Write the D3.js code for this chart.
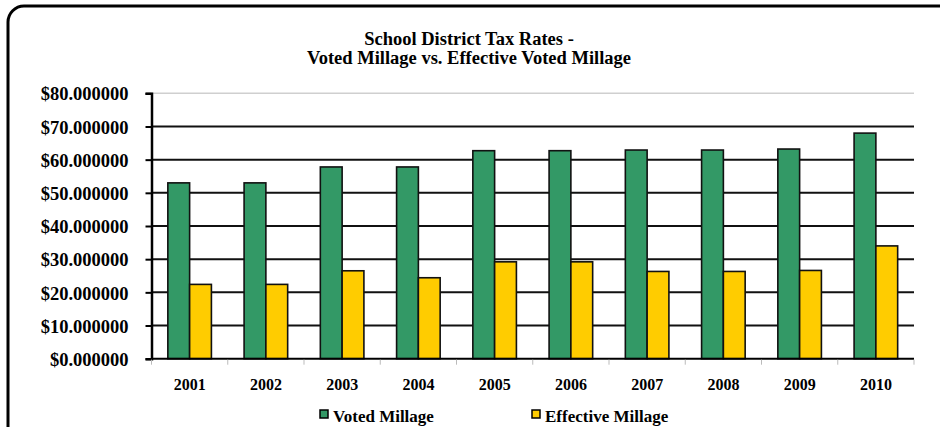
<!DOCTYPE html>
<html lang="en">
  <head>
    <meta charset="UTF-8" />
    <title>School District Tax Rates</title>
    <script src="https://d3js.org/d3.v7.min.js"></script>
    <style>
      body {
        margin: 0;
        background: #fff;
      }
      svg text {
        font-family: "Liberation Serif", "Times New Roman", serif;
        font-weight: bold;
        fill: #000;
      }
    </style>
  </head>
  <body>
    <svg id="chart" width="940" height="427"></svg>

    <script>
      // data
      const years = ["2001", "2002", "2003", "2004", "2005", "2006", "2007", "2008", "2009", "2010"];
      const votedMillage = [53.0, 53.0, 57.8, 57.8, 62.7, 62.7, 62.9, 62.9, 63.2, 68.0];
      const effectiveMillage = [22.4, 22.4, 26.5, 24.4, 29.2, 29.2, 26.3, 26.3, 26.6, 34.0];
      const seriesNames = ["Voted Millage", "Effective Millage"];
      const seriesColors = ["#339966", "#ffcc00"];
      const yTicks = [0, 10, 20, 30, 40, 50, 60, 70, 80];

      const svg = d3.select("#chart");

      // outer rounded frame (runs off the right and bottom edge)
      svg.append("rect")
        .attr("x", 8)
        .attr("y", 6)
        .attr("width", 946)
        .attr("height", 470)
        .attr("rx", 16)
        .attr("fill", "none")
        .attr("stroke", "#000")
        .attr("stroke-width", 3);

      // title
      const title = svg.append("text")
        .attr("text-anchor", "middle")
        .style("font-size", "18.5px");
      title.append("tspan").attr("x", 469).attr("y", 45).text("School District Tax Rates -");
      title.append("tspan").attr("x", 469).attr("y", 64).text("Voted Millage vs. Effective Voted Millage");

      const plotLeft = 151.5, plotRight = 914, plotTop = 93.3, plotBottom = 358.7;

      const x = d3.scaleBand().domain(years).range([plotLeft, plotRight]);
      const bw = x.bandwidth() / 3.5; // Excel gap width 150%
      const xs = d3.scaleBand().domain(seriesNames).range([bw * 0.75, bw * 2.75]);
      const y = d3.scaleLinear().domain([0, 80]).range([plotBottom, plotTop]);

      // gridlines
      svg.append("g")
        .selectAll("line")
        .data(yTicks.filter((d) => d > 0))
        .join("line")
        .attr("x1", plotLeft)
        .attr("x2", plotRight)
        .attr("y1", (d) => y(d))
        .attr("y2", (d) => y(d))
        .attr("stroke", (d) => (d === 80 ? "#cfcfcf" : "#111"))
        .attr("stroke-width", (d) => (d === 80 ? 1.5 : 2));

      // bars
      const rows = years.map((yr, i) => ({ year: yr, values: [votedMillage[i], effectiveMillage[i]] }));
      const groups = svg.append("g")
        .selectAll("g")
        .data(rows)
        .join("g")
        .attr("transform", (d) => `translate(${x(d.year)},0)`);

      groups.selectAll("rect")
        .data((d) => d.values.map((v, j) => ({ name: seriesNames[j], value: v, color: seriesColors[j] })))
        .join("rect")
        .attr("x", (d) => xs(d.name))
        .attr("y", (d) => y(d.value))
        .attr("width", xs.bandwidth())
        .attr("height", (d) => y(0) - y(d.value))
        .attr("fill", (d) => d.color)
        .attr("stroke", "#111")
        .attr("stroke-width", 1.6);

      // y axis
      const yAxis = svg.append("g")
        .attr("transform", `translate(${plotLeft},0)`)
        .call(d3.axisLeft(y).tickValues(yTicks).tickSize(6).tickPadding(17)
          .tickFormat((d) => "$" + d3.format(".6f")(d)));
      yAxis.select(".domain").attr("stroke", "#000").attr("stroke-width", 2.5);
      yAxis.selectAll(".tick line").attr("stroke", "#000").attr("stroke-width", 2);
      yAxis.selectAll("text")
        .style("font-size", "18.5px")
        .attr("font-family", null)
        .attr("dy", "0.36em");

      // x axis
      const xAxis = svg.append("g")
        .attr("transform", `translate(0,${plotBottom})`)
        .call(d3.axisBottom(x).tickSize(0).tickPadding(20));
      xAxis.select(".domain").remove();
      xAxis.selectAll("text").style("font-size", "16px").attr("font-family", null);

      svg.append("line")
        .attr("x1", plotLeft)
        .attr("x2", plotRight)
        .attr("y1", plotBottom)
        .attr("y2", plotBottom)
        .attr("stroke", "#000")
        .attr("stroke-width", 2);

      // category boundary ticks
      svg.append("g")
        .selectAll("line")
        .data(years.map((d) => x(d)).concat([plotRight]))
        .join("line")
        .attr("x1", (d) => d)
        .attr("x2", (d) => d)
        .attr("y1", plotBottom + 1)
        .attr("y2", plotBottom + 6)
        .attr("stroke", "#bbb")
        .attr("stroke-width", 1);

      // legend
      const legendX = [320, 532];
      const legend = svg.append("g")
        .selectAll("g")
        .data(seriesNames)
        .join("g")
        .attr("transform", (d, i) => `translate(${legendX[i]},410)`);
      legend.append("rect")
        .attr("width", 8)
        .attr("height", 8)
        .attr("fill", (d, i) => seriesColors[i])
        .attr("stroke", "#000")
        .attr("stroke-width", 1.5);
      legend.append("text")
        .attr("x", 13)
        .attr("y", 11.5)
        .style("font-size", "17px")
        .text((d) => d);
    </script>
  </body>
</html>
